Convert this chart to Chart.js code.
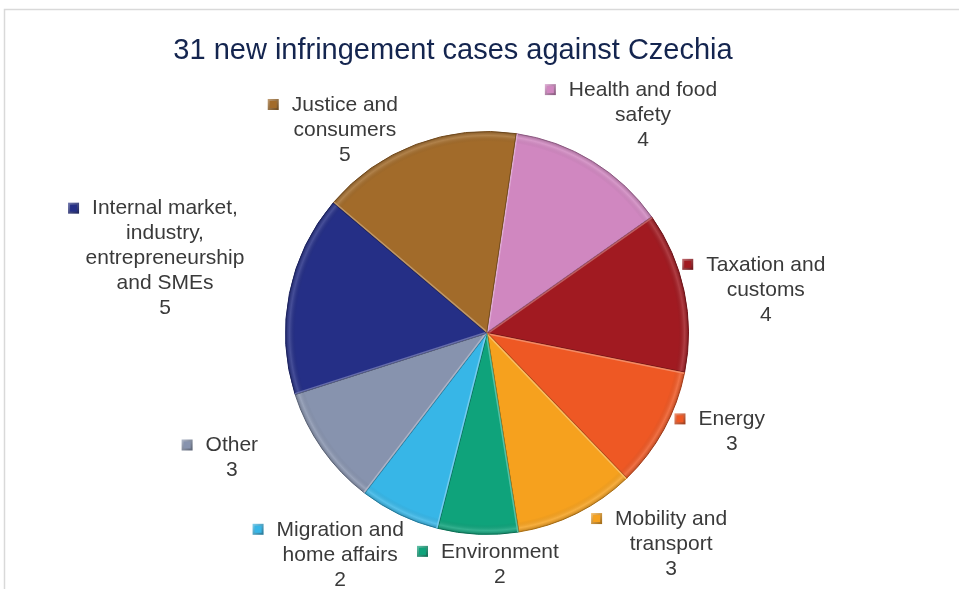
<!DOCTYPE html>
<html>
<head>
<meta charset="utf-8">
<script src="https://cdn.jsdelivr.net/npm/chart.js@4/dist/chart.umd.min.js"></script>
<style>
    html, body { margin: 0; padding: 0; background: #fff; }
    #wrap { width: 959px; height: 589px; position: relative; }
</style>
</head>
<body>
<div id="wrap"><canvas id="myChart" width="959" height="589"></canvas></div>
<script>
const chartTitle = '31 new infringement cases against Czechia'
const categories = [
    'Health and food safety',
    'Taxation and customs',
    'Energy',
    'Mobility and transport',
    'Environment',
    'Migration and home affairs',
    'Other',
    'Internal market, industry, entrepreneurship and SMEs',
    'Justice and consumers',
]
const caseCounts = [4, 4, 3, 3, 2, 2, 3, 5, 5]
const sliceColors = ['#D087C0', '#A11A21', '#EE5824', '#F6A11E', '#0FA37B', '#37B6E7', '#8793AE', '#252F86', '#A26B2A']

// label lines as Excel wrapped them
const labelLines = [
    ['Health and food', 'safety'],
    ['Taxation and', 'customs'],
    ['Energy'],
    ['Mobility and', 'transport'],
    ['Environment'],
    ['Migration and', 'home affairs'],
    ['Other'],
    ['Internal market,', 'industry,', 'entrepreneurship', 'and SMEs'],
    ['Justice and', 'consumers'],
]
// label centre: angle (deg, clockwise from top) and distance in radii from the pie centre
const labelPlace = [
    [35.6, 1.33], [81.2, 1.40], [112.0, 1.31], [138.9, 1.39], [176.8, 1.15],
    [213.5, 1.32], [243.9, 1.41], [283.0, 1.64], [-35.0, 1.23],
]

const shade = (hex, f) => {
    const n = parseInt(hex.slice(1), 16)
    let r = (n >> 16) & 255, g = (n >> 8) & 255, b = n & 255
    if (f < 0) { r *= 1 + f; g *= 1 + f; b *= 1 + f }
    else { r += (255 - r) * f; g += (255 - g) * f; b += (255 - b) * f }
    return `rgb(${Math.round(r)},${Math.round(g)},${Math.round(b)})`
}

const framePlugin = {
    id: 'frame',
    beforeDraw(chart) {
        const c = chart.ctx
        c.save()
        c.strokeStyle = '#D9D9D9'
        c.lineWidth = 1.5
        c.strokeRect(4.5, 9.5, 1200, 1200)
        c.restore()
    }
}

const bevelPlugin = {
    id: 'bevel',
    afterDatasetsDraw(chart) {
        const c = chart.ctx
        const arcs = chart.getDatasetMeta(0).data
        arcs.forEach((arc, i) => {
            const { x, y, startAngle, endAngle, outerRadius } = arc
            c.save()
            c.beginPath()
            c.moveTo(x, y)
            c.arc(x, y, outerRadius, startAngle, endAngle)
            c.closePath()
            c.clip()
            const g = c.createRadialGradient(x, y, 0, x, y, outerRadius)
            g.addColorStop(0, 'rgba(0,0,0,0)')
            g.addColorStop(0.95, 'rgba(0,0,0,0)')
            g.addColorStop(0.98, 'rgba(255,255,255,0.15)')
            g.addColorStop(1, 'rgba(0,0,0,0.2)')
            c.fillStyle = g
            c.fillRect(x - outerRadius, y - outerRadius, outerRadius * 2, outerRadius * 2)
            // light leading edge
            c.strokeStyle = shade(sliceColors[i], 0.3)
            c.lineWidth = 3
            c.beginPath()
            c.moveTo(x, y)
            c.lineTo(x + Math.cos(startAngle) * outerRadius, y + Math.sin(startAngle) * outerRadius)
            c.stroke()
            c.strokeStyle = shade(sliceColors[i], -0.3)
            c.lineWidth = 1.5
            c.beginPath()
            c.moveTo(x, y)
            c.lineTo(x + Math.cos(endAngle) * outerRadius, y + Math.sin(endAngle) * outerRadius)
            c.stroke()
            c.restore()
        })
    }
}

const labelPlugin = {
    id: 'sliceLabels',
    afterDraw(chart) {
        const c = chart.ctx
        const arcs = chart.getDatasetMeta(0).data
        c.save()
        c.fillStyle = '#14254F'
        c.font = '29px "Liberation Sans", Arial, sans-serif'
        c.textAlign = 'center'
        c.textBaseline = 'middle'
        c.fillText(chartTitle, 453, 51)

        c.font = '21px "Liberation Sans", Arial, sans-serif'
        const lineH = 25
        arcs.forEach((arc, i) => {
            const [deg, dist] = labelPlace[i]
            const a = deg * Math.PI / 180
            const cx = arc.x + Math.sin(a) * arc.outerRadius * dist
            const cy = arc.y - Math.cos(a) * arc.outerRadius * dist
            const lines = labelLines[i].concat([String(caseCounts[i])])
            const top = cy - (lines.length - 1) * lineH / 2
            lines.forEach((t, k) => {
                c.fillStyle = '#3A3A3A'
                c.fillText(t, cx, top + k * lineH)
            })
            // legend key before the first line
            const w = c.measureText(labelLines[i][0]).width
            const kx = cx - w / 2 - 24, ky = top - 6
            const g = c.createLinearGradient(kx, ky, kx + 11, ky + 11)
            g.addColorStop(0, shade(sliceColors[i], 0.35))
            g.addColorStop(1, shade(sliceColors[i], -0.35))
            c.fillStyle = g
            c.fillRect(kx, ky, 11, 11)
            c.fillStyle = sliceColors[i]
            c.fillRect(kx + 2, ky + 2, 7, 7)
        })
        c.restore()
    }
}

const ctx = document.getElementById('myChart')
new Chart(ctx, {
    type: 'pie',
    data: {
        labels: categories,
        datasets: [{
            data: caseCounts,
            backgroundColor: sliceColors,
            borderColor: sliceColors.map(col => shade(col, -0.25)),
            borderWidth: 1,
        }]
    },
    options: {
        responsive: false,
        animation: false,
        rotation: 8.4,
        layout: { padding: { top: 131, bottom: 54, left: 285, right: 270 } },
        plugins: {
            legend: { display: false },
            tooltip: { enabled: false },
            title: { display: false },
        }
    },
    plugins: [framePlugin, bevelPlugin, labelPlugin]
})
</script>
</body>
</html>
